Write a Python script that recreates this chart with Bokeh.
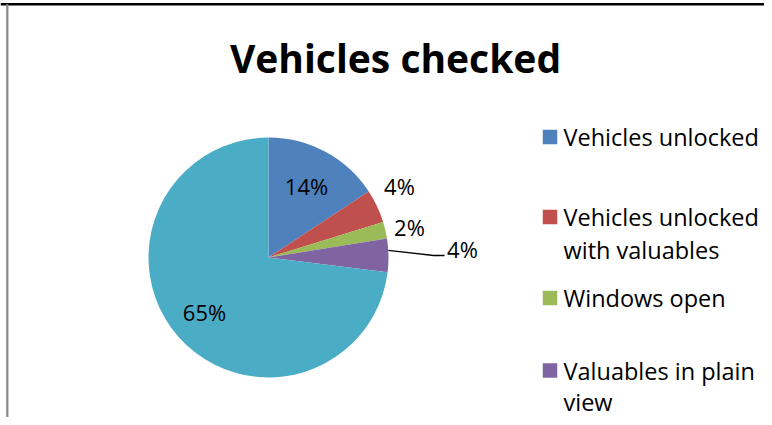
import math
from bokeh.plotting import figure
from bokeh.models import Range1d, ColumnDataSource
from bokeh.core.properties import value
from bokeh.embed import file_html
from bokeh.resources import INLINE

# ---- data ----
categories = ["Vehicles unlocked", "Vehicles unlocked with valuables",
              "Windows open", "Valuables in plain view", "Other"]
values = [14, 4, 2, 4, 65]
pct_labels = ["14%", "4%", "2%", "4%", "65%"]
colors = ["#4F81BD", "#C0504D", "#9BBB59", "#8064A2", "#4BACC6"]
legend_lines = [["Vehicles unlocked"],
                ["Vehicles unlocked", "with valuables"],
                ["Windows open"],
                ["Valuables in plain", "view"]]
title_text = "Vehicles checked"

W, H = 764, 417
FONT = "Open Sans"

def Y(py):
    return 425 - py

p = figure(width=W, height=H, output_backend="svg", toolbar_location=None,
           x_range=Range1d(0, W), y_range=Range1d(425 - H, 425),
           x_axis_location=None, y_axis_location=None, min_border=0)
p.grid.visible = False
p.outline_line_color = None
p.background_fill_color = "white"
p.border_fill_color = "white"

# pie
cx, cy, r = 268, Y(257), 120
total = sum(values)
starts, ends = [], []
cum = 0.0
for v in values:
    a0 = math.pi / 2 - 2 * math.pi * cum / total
    cum += v
    a1 = math.pi / 2 - 2 * math.pi * cum / total
    starts.append(a0); ends.append(a1)

src = ColumnDataSource(dict(start=starts, end=ends, color=colors))
p.wedge(x=cx, y=cy, radius=r, start_angle="start", end_angle="end",
        direction="clock", fill_color="color", line_color=None, source=src)

# data labels (center x, center y in page px)
label_pos = [(306, 185.5), (399, 185), (409, 226.5), (462, 248), (204, 311)]
p.text(x=[q[0] for q in label_pos], y=[Y(q[1]) for q in label_pos], text=pct_labels,
       text_font=value(FONT), text_font_size="22px", text_color="black",
       text_align="center", text_baseline="middle")

# leader line for purple slice (anchored on its outer edge)
m = starts[3] + 0.35 * (ends[3] - starts[3])
ex, ey = cx + r * math.cos(m), cy + r * math.sin(m)
p.line(x=[ex, 433, 444], y=[ey, Y(255), Y(255)], line_color="black", line_width=1.3)

# title
p.text(x=[395], y=[Y(56.5)], text=[title_text], text_font=value(FONT),
       text_font_style="bold", text_font_size="39px", text_color="black",
       text_align="center", text_baseline="middle")

# legend
entry_y = [136.5, 216.5, 297.5, 370]
line_gap = [32.5, 32.5, 32.5, 31]
p.rect(x=[549.5] * 4, y=[Y(v) for v in entry_y], width=14.5, height=14.5,
       fill_color=colors[:4], line_color=None)
tx, ty, tt = [], [], []
for ey0, gap, lines in zip(entry_y, line_gap, legend_lines):
    for i, ln in enumerate(lines):
        tx.append(563); ty.append(Y(ey0 + i * gap)); tt.append(ln)
p.text(x=tx, y=ty, text=tt, text_font=value(FONT), text_font_size="23.5px",
       text_color="black", text_align="left", text_baseline="middle")

# chart area borders (cropped)
p.line(x=[0, W], y=[Y(3.8), Y(3.8)], line_color="black", line_width=2.5)
p.line(x=[6.8, 6.8], y=[425 - H, Y(3.8)], line_color="#8C8C8C", line_width=2.3)

open("out.html", "w").write(file_html(p, INLINE))
